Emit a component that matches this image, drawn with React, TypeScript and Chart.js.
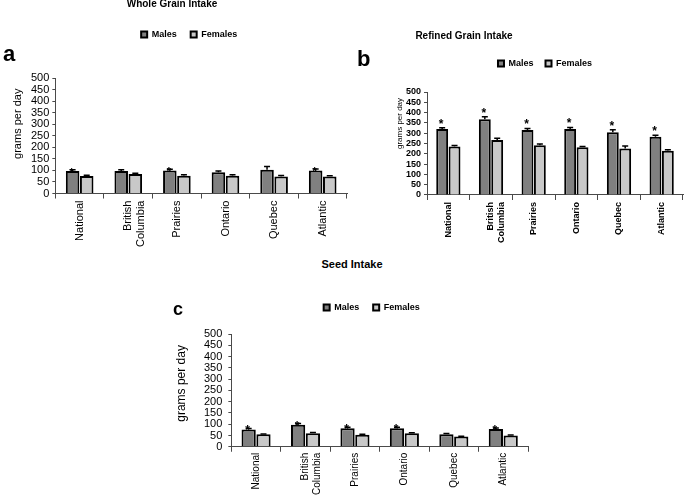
import React, { useEffect, useRef } from "react";
import { Chart, registerables } from "chart.js";

Chart.register(...registerables);

// ---------- data ----------
const regions: (string | string[])[] = ["National", ["British", "Columbia"], "Prairies", "Ontario", "Quebec", "Atlantic"];
const seriesNames = ["Males", "Females"];
const yAxisTitle = "grams per day";
const yMin = 0;
const yMax = 500;
const yStep = 50;

const wholeTitle = "Whole Grain Intake";
const wholeMales = [98, 98, 100, 92, 103, 100];
const wholeMalesErr = [5, 5, 5, 5, 14, 6];
const wholeFemales = [76, 85, 77, 77, 74, 74];
const wholeFemalesErr = [3, 3, 4, 4, 4, 3];
const wholeSig = [true, false, true, false, false, true];

const refinedTitle = "Refined Grain Intake";
const refinedMales = [320, 368, 315, 320, 305, 283];
const refinedMalesErr = [7, 12, 8, 8, 12, 7];
const refinedFemales = [235, 267, 242, 232, 226, 215];
const refinedFemalesErr = [5, 9, 5, 4, 12, 5];
const refinedSig = [true, true, true, true, true, true];

const seedTitle = "Seed Intake";
const seedMales = [77, 98, 82, 82, 56, 79];
const seedMalesErr = [4, 5, 4, 4, 3, 4];
const seedFemales = [55, 60, 53, 60, 45, 50];
const seedFemalesErr = [2, 3, 2, 2, 2, 2];
const seedSig = [true, true, true, true, false, true];

// ---------- styling ----------
const FONT = "'Liberation Sans', Arial, Helvetica, sans-serif";
const MALE_COLOR = "#808080";
const FEMALE_COLOR = "#c8c8c8";
const AXIS_COLOR = "#4a4a4a";

const errorStarPlugin = {
  id: "errStars",
  afterDatasetsDraw(chart: any, _args: any, opts: any) {
    const { ctx } = chart;
    const yScale = chart.scales.y;
    ctx.save();
    chart.data.datasets.forEach((ds: any, di: number) => {
      const meta = chart.getDatasetMeta(di);
      const errs = opts.errors[di];
      meta.data.forEach((el: any, i: number) => {
        const v = ds.data[i];
        const top = yScale.getPixelForValue(v + errs[i]);
        ctx.strokeStyle = "#000";
        ctx.lineWidth = 1.5;
        ctx.beginPath();
        ctx.moveTo(el.x, el.y);
        ctx.lineTo(el.x, top);
        ctx.moveTo(el.x - opts.cap, top);
        ctx.lineTo(el.x + opts.cap, top);
        ctx.stroke();
        if (di === 0 && opts.sig[i]) {
          ctx.fillStyle = "#000";
          ctx.font = `bold ${opts.starSize}px ${FONT}`;
          ctx.textAlign = "center";
          ctx.textBaseline = "alphabetic";
          ctx.fillText("*", el.x + opts.starDx, top + opts.starDy);
        }
      });
    });
    ctx.restore();
  },
};

// y-axis title drawn beside the axis, at a given vertical offset from the plot centre
const yTitlePlugin = {
  id: "yTitle",
  afterDraw(chart: any, _args: any, opts: any) {
    const { ctx, chartArea } = chart;
    const cy = (chartArea.top + chartArea.bottom) / 2 + opts.dy;
    ctx.save();
    ctx.translate(opts.x, cy);
    ctx.rotate(-Math.PI / 2);
    ctx.fillStyle = "#000";
    ctx.font = `${opts.weight} ${opts.size}px ${FONT}`;
    ctx.textAlign = "center";
    ctx.textBaseline = "middle";
    ctx.fillText(opts.text, 0, 0);
    ctx.restore();
  },
};

const legendTweaks = (extra: number, dx: number) => ({
  id: "legendTweaks",
  beforeInit(chart: any) {
    const lg = chart.legend;
    if (!lg) return;
    const orig = lg.fit;
    lg.fit = function () {
      orig.call(this);
      this.height += extra;
    };
  },
  afterLayout(chart: any) {
    const lg = chart.legend;
    if (!lg) return;
    lg.left += dx;
    lg.right += dx;
  },
});

type PanelParams = {
  males: number[];
  females: number[];
  malesErr: number[];
  femalesErr: number[];
  sig: boolean[];
  padding: any;
  legendPad: number;
  legendExtra: number;
  legendDx: number;
  legendFont: number;
  tickFont: any;
  tickPad: number;
  xFont: any;
  xPad: number;
  yTitle: any;
  catPct: number;
  starDy: number;
  starSize: number;
};

function makeConfig(p: PanelParams): any {
  return {
    type: "bar",
    data: {
      labels: regions,
      datasets: [
        {
          label: seriesNames[0],
          data: p.males,
          backgroundColor: MALE_COLOR,
          borderColor: "#000",
          borderWidth: 2,
          categoryPercentage: p.catPct,
          barPercentage: 0.96,
        },
        {
          label: seriesNames[1],
          data: p.females,
          backgroundColor: FEMALE_COLOR,
          borderColor: "#000",
          borderWidth: 2,
          categoryPercentage: p.catPct,
          barPercentage: 0.96,
        },
      ],
    },
    options: {
      animation: false,
      responsive: false,
      maintainAspectRatio: false,
      layout: { padding: p.padding },
      plugins: {
        legend: {
          position: "top",
          fullSize: false,
          labels: {
            boxWidth: 6,
            boxHeight: 6,
            padding: p.legendPad,
            color: "#000",
            font: { family: FONT, size: p.legendFont, weight: "bold" },
          },
        },
        title: { display: false },
        tooltip: { enabled: false },
        errStars: {
          errors: [p.malesErr, p.femalesErr],
          sig: p.sig,
          cap: 3,
          starDx: -1,
          starDy: p.starDy,
          starSize: p.starSize,
        },
        yTitle: { text: yAxisTitle, ...p.yTitle },
      },
      scales: {
        x: {
          grid: { drawOnChartArea: false, tickLength: 5, color: AXIS_COLOR },
          border: { color: AXIS_COLOR, width: 1 },
          ticks: {
            minRotation: 90,
            maxRotation: 90,
            autoSkip: false,
            padding: p.xPad,
            color: "#000",
            font: p.xFont,
          },
        },
        y: {
          min: yMin,
          max: yMax,
          grid: { drawOnChartArea: false, tickLength: 3, color: AXIS_COLOR },
          border: { color: AXIS_COLOR, width: 1 },
          ticks: { stepSize: yStep, autoSkip: false, padding: p.tickPad, color: "#000", font: p.tickFont },
          title: { display: false },
        },
      },
    },
    plugins: [errorStarPlugin, yTitlePlugin, legendTweaks(p.legendExtra, p.legendDx)],
  };
}

function Panel(props: { left: number; top: number; width: number; height: number; params: PanelParams }) {
  const ref = useRef<HTMLCanvasElement | null>(null);
  useEffect(() => {
    if (!ref.current) return;
    const chart = new Chart(ref.current, makeConfig(props.params));
    return () => chart.destroy();
  }, []);
  return (
    <canvas
      ref={ref}
      width={props.width}
      height={props.height}
      style={{ position: "absolute", left: props.left, top: props.top, width: props.width, height: props.height }}
    />
  );
}

const textStyle = (left: number, top: number, size: number, center = false): React.CSSProperties => ({
  position: "absolute",
  left,
  top,
  fontFamily: FONT,
  fontWeight: "bold",
  fontSize: size,
  lineHeight: `${size}px`,
  whiteSpace: "nowrap",
  color: "#000",
  transform: center ? "translateX(-50%)" : undefined,
});

export default function App() {
  const panelA: PanelParams = {
    males: wholeMales,
    females: wholeFemales,
    malesErr: wholeMalesErr,
    femalesErr: wholeFemalesErr,
    sig: wholeSig,
    padding: { left: 28, top: 16, right: 3, bottom: 4 },
    legendPad: 14,
    legendExtra: 29,
    legendDx: -12,
    legendFont: 9,
    tickFont: { family: FONT, size: 11 },
    tickPad: 3,
    xFont: { family: FONT, size: 11 },
    xPad: 2,
    yTitle: { x: 18, dy: -12, size: 11, weight: "normal" },
    catPct: 0.58,
    starDy: 6,
    starSize: 11,
  };
  const panelB: PanelParams = {
    males: refinedMales,
    females: refinedFemales,
    malesErr: refinedMalesErr,
    femalesErr: refinedFemalesErr,
    sig: refinedSig,
    padding: { left: 63, top: 7, right: 2, bottom: 4 },
    legendPad: 12,
    legendExtra: 14,
    legendDx: -10,
    legendFont: 9,
    tickFont: { family: FONT, size: 9, weight: "bold" },
    tickPad: 3,
    xFont: { family: FONT, size: 9, weight: "bold" },
    xPad: 2,
    yTitle: { x: 60, dy: -20, size: 8, weight: "normal" },
    catPct: 0.58,
    starDy: 0,
    starSize: 12,
  };
  const panelC: PanelParams = {
    males: seedMales,
    females: seedFemales,
    malesErr: seedMalesErr,
    femalesErr: seedFemalesErr,
    sig: seedSig,
    padding: { left: 28, top: 4, right: 4, bottom: 0 },
    legendPad: 14,
    legendExtra: 12,
    legendDx: -8,
    legendFont: 9,
    tickFont: { family: FONT, size: 11 },
    tickPad: 6,
    xFont: { family: FONT, size: 10 },
    xPad: 1,
    yTitle: { x: 12, dy: -7, size: 12, weight: "normal" },
    catPct: 0.6,
    starDy: 6,
    starSize: 12,
  };

  return (
    <div
      style={{
        position: "absolute",
        left: 0,
        top: 0,
        width: 685,
        height: 496,
        background: "#fff",
        overflow: "hidden",
      }}
    >
      <Panel left={0} top={0} width={350} height={253} params={panelA} />
      <Panel left={340} top={40} width={345} height={209} params={panelB} />
      <Panel left={170} top={285} width={362} height={211} params={panelC} />
      <div style={textStyle(172, -1, 10, true)}>{wholeTitle}</div>
      <div style={textStyle(464, 31, 10, true)}>{refinedTitle}</div>
      <div style={textStyle(352, 259, 11, true)}>{seedTitle}</div>
      <div style={textStyle(3, 43, 22)}>a</div>
      <div style={textStyle(357, 48, 22)}>b</div>
      <div style={textStyle(173, 300, 18)}>c</div>
    </div>
  );
}
